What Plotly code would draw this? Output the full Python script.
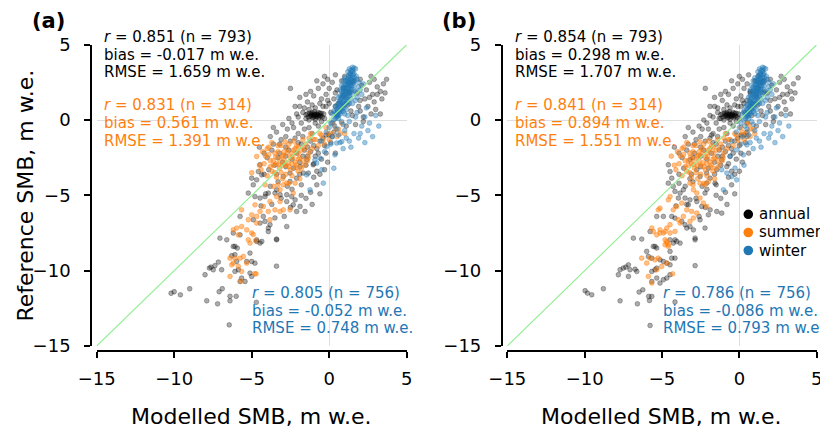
import plotly.graph_objects as go

# ---------------- data ----------------
tick_vals = [-15, -10, -5, 0, 5]
tick_labels = ["\u221215", "\u221210", "\u22125", "0", "5"]
series_names = ["annual", "summer", "winter"]

annual_a = [
    (-1.5,0.35),(-1.35,0.2),(-1.25,0.45),(-1.15,0.3),(-1.05,0.15),(-0.95,0.4),(-0.85,0.25),(-0.75,0.35),
    (-0.65,0.15),(-0.55,0.3),(-0.45,0.2),(-1.1,0.5),(-0.9,0.05),(-0.7,0.5),(-1.3,0.0),(-1.0,0.3),(-0.8,0.4),
    (-0.6,0.45),(-1.2,0.25),(-0.35,0.4),
    (-1.0,0.2),(-0.9,0.35),(-0.8,0.2),(-1.1,0.4),(-0.7,0.3),(-1.2,0.35),(-0.6,0.25),(-1.4,0.4),(-0.5,0.45),
    (-0.95,0.55),
    (-2.5,2.1),(-1.9,1.5),(-1.4,1.2),(-1.0,1.6),(-0.7,2.1),(-0.4,2.4),(-0.1,2.7),(0.2,2.5),(0.5,2.0),(-0.2,1.7),
    (0.3,1.4),(-0.6,1.1),(-1.6,0.8),(-2.1,0.4),(-2.6,0.1),(-3.0,-0.3),(-2.3,-0.5),(-1.8,-0.2),(-1.3,-0.5),
    (-0.2,0.9),(0.1,0.5),(-3.4,-0.8),(-2.8,-1.1),(-1.9,0.9),(-0.9,0.8),(0.6,1.1),(-1.2,1.9),(0.0,2.1),
    (-2.2,0.9),(-1.7,0.5),(-1.3,0.7),(-0.4,0.9),(-0.1,1.3),(0.4,0.9),(0.2,-0.2),(-0.7,-0.4),(-1.1,-0.9),
    (-1.7,-1.1),(-2.5,-1.4),(-3.1,-1.3),(-2.7,-0.6),(-3.8,-1.1),(-2.0,-0.9),(-1.5,0.1),(-0.5,-0.1),(0.5,0.3),
    (0.9,1.6),(0.8,2.6),(-0.3,2.9),(0.4,3.0),(1.0,2.9),
    (-2.0,0.2),(-2.4,-0.2),(-1.6,-0.6),(-0.9,-0.2),(-0.3,0.1),(-1.1,1.0),(-0.5,1.4),(-1.5,1.7),(0.0,1.1),
    (0.4,1.8),(-0.8,2.6),(0.9,2.1),(1.3,1.8),
    (1.6,2.6),(2.1,2.3),(2.6,2.5),(3.1,2.2),(3.5,2.4),(3.3,1.9),(2.8,1.7),(2.3,1.4),(1.8,1.8),(2.9,1.2),(3.4,1.4),
    (2.5,0.9),(2.0,0.6),(1.5,0.3),(2.7,0.4),(3.0,0.7),(2.2,-0.1),(1.7,-0.3),(1.2,1.0),(2.4,2.0),(3.7,2.7),
    (2.2,0.2),(2.9,2.7),(3.6,1.8),(1.4,0.6),(1.1,-0.4),(3.3,0.4),(2.0,1.3),(2.6,1.5),(3.1,1.7),(2.0,2.7),
    (2.7,2.9),(1.9,0.9),
    (-4.5,-1.8),(-4.0,-2.5),(-3.6,-1.6),(-3.2,-2.2),(-2.8,-1.8),(-2.4,-2.6),(-2.0,-1.5),(-1.6,-2.0),(-1.2,-1.4),
    (-0.8,-1.9),(-0.4,-1.2),(0.1,-1.5),(0.4,-2.2),(-0.5,-2.6),(-1.0,-2.9),(-1.45,-2.64),(-1.03,-2.97),
    (-1.35,-3.52),(-1.67,-3.52),(-1.88,-3.09),(-2.1,-3.86),(-2.53,-3.52),(-2.96,-3.75),(-2.53,-4.08),
    (-3.5,-3.0),(-4.46,-2.97),(-4.57,-3.42),(-4.35,-3.64),(-4.68,-3.97),(-5.0,-3.86),(-4.9,-4.3),(-0.3,-3.3),
    (0.3,-0.8),(-3.9,-3.3),(-3.0,-2.8),
    (-2.1,-2.2),(-1.4,-2.4),(-0.9,-2.4),(-0.2,-2.2),(-0.6,-3.6),(-1.0,-3.8),(-1.8,-4.3),(-2.4,-4.6),
    (-3.3,-4.1),(-3.8,-4.4),(-4.2,-3.6),(-0.3,-1.7),(0.0,-1.0),(-1.9,-2.8),(-2.8,-2.4),(-3.4,-3.6),
    (-3.6,-0.5),(-3.2,-1.6),(-2.6,-2.0),(-2.2,-1.2),(-1.8,-1.6),(-1.4,-1.8),(-1.0,-1.7),(-0.6,-1.4),
    (-0.2,-1.0),(0.2,-1.1),(-0.7,-2.2),(-1.2,-2.1),(-1.7,-2.4),(-2.3,-3.2),(-2.8,-3.1),(-3.3,-2.5),
    (-3.7,-2.0),(-4.2,-2.2),(-1.5,-3.0),(-0.8,-3.4),(-0.1,-2.8),(-1.9,-3.6),(-2.7,-4.4),
    (-5.22,-4.85),(-4.79,-5.08),(-4.46,-5.18),(-4.14,-5.08),(-3.93,-4.85),(-3.5,-4.85),(-3.39,-4.63),
    (-3.17,-4.96),(-2.74,-4.96),(-2.42,-5.08),(-2.2,-5.3),(-2.74,-5.41),(-2.32,-5.63),(-1.88,-5.74),
    (-2.1,-6.07),(-1.56,-6.07),(-1.2,-4.8),(-0.8,-4.3),(-1.5,-5.2),(-2.9,-6.4),(-3.5,-6.5),(-4.1,-4.9),
    (-3.1,-5.2),(-2.5,-5.8),(-1.8,-5.0),(-1.1,-5.6),(-0.6,-4.9),(-3.7,-5.6),(-4.4,-5.7),
    (-2.74,-7.07),(-3.39,-7.95),(-3.82,-6.95),(-3.93,-7.17),(-4.14,-6.73),(-4.46,-6.84),(-4.9,-6.62),
    (-5.75,-6.4),(-7.05,-7.84),(-6.61,-7.95),(-6.08,-8.39),(-4.68,-7.95),(-4.35,-8.06),(-4.25,-6.4),
    (-6.19,-8.39),(-5.93,-8.5),(-6.08,-8.94),(-6.29,-9.01),(-5.11,-8.83),(-5.0,-9.39),(-5.32,-9.39),
    (-4.79,-9.5),(-5.97,-9.39),(-5.86,-9.94),(-6.08,-10.05),(-5.65,-10.49),(-5.43,-10.72),(-5.75,-10.72),
    (-5.0,-10.38),(-5.11,-10.16),(-4.46,-8.17),(-4.68,-8.06),(-5.75,-7.62),(-6.19,-7.5),(-3.93,-7.4),
    (-7.37,-9.67),(-7.63,-9.76),(-7.48,-9.94),(-7.15,-9.43),(-6.94,-9.94),(-8.01,-10.27),(-7.73,-9.83),
    (-3.4,-9.7),(-3.4,-7.9),
    (-10.2,-11.5),(-10.0,-11.4),(-9.6,-11.6),(-9.0,-11.2),(-7.9,-12.0),(-7.2,-12.2),(-6.4,-12.0),
    (-6.4,-11.7),(-6.0,-11.7),(-6.45,-13.6),(-7.1,-11.4),(-6.9,-11.2),(-4.7,-12.1),
]

summer_a = [
    (0.3,-0.3),(0.6,-0.6),(0.1,-0.9),(-0.2,-0.5),(0.5,-1.1),(-0.5,-1.0),(-0.9,-1.3),(-0.3,-1.6),(0.8,-0.2),
    (0.0,-1.3),(-1.2,-0.9),(-0.7,-1.7),(1.0,-0.9),(-1.0,-1.3),(-0.6,-0.9),(-0.1,-0.9),(0.4,-0.6),(0.7,-0.9),
    (-1.3,-1.2),(-0.4,-1.3),
    (-1.5,-1.6),(-1.8,-2.0),(-2.1,-1.7),(-2.4,-2.2),(-2.7,-1.9),(-3.0,-2.4),(-3.3,-2.1),(-3.6,-2.7),(-3.9,-2.3),
    (-4.2,-2.9),(-2.2,-2.8),(-2.6,-3.1),(-2.9,-2.7),(-3.2,-3.2),(-3.5,-3.5),(-3.8,-3.1),(-1.9,-2.5),(-1.6,-3.0),
    (-2.0,-3.4),(-2.4,-3.7),(-2.8,-3.6),(-3.1,-1.7),(-3.4,-2.9),(-2.5,-2.5),(-2.0,-2.2),(-1.3,-2.2),(-4.0,-1.9),
    (-4.68,-2.42),(-4.4,-3.3),(-3.0,-3.9),(-1.1,-1.9),(-2.3,-1.4),(-3.7,-1.5),
    (-1.7,-1.3),(-2.0,-2.6),(-2.3,-2.0),(-2.6,-1.6),(-2.9,-2.1),(-3.2,-2.6),(-3.5,-2.2),(-3.8,-2.7),(-4.1,-2.4),
    (-2.1,-3.0),(-2.5,-3.3),(-2.8,-3.0),(-3.1,-3.5),(-3.4,-3.8),(-3.7,-3.4),(-4.0,-3.7),(-1.8,-3.2),(-1.4,-2.7),
    (-2.7,-2.2),(-3.3,-1.7),(-3.9,-1.8),(-1.6,-1.9),(-2.2,-1.9),(-2.4,-2.9),(-3.0,-3.0),(-3.6,-3.0),(-4.5,-3.0),
    (-4.3,-2.1),(-2.6,-4.2),(-3.3,-4.3),(-1.9,-3.9),
    (-2.0,-1.8),(-2.35,-2.45),(-2.65,-2.85),(-2.95,-2.35),(-3.25,-2.95),(-1.7,-2.7),(-2.15,-3.15),
    (-3.45,-2.45),(-2.85,-1.45),(-1.35,-2.5),
    (-4.14,-4.3),(-3.6,-4.41),(-3.39,-5.08),(-3.82,-5.41),(-3.17,-5.41),(-2.96,-5.96),(-3.5,-5.96),
    (-3.93,-6.07),(-4.25,-5.74),(-4.46,-6.07),(-4.79,-5.63),(-5.0,-6.29),(-4.68,-6.4),(-3.82,-6.62),
    (-5.22,-6.62),(-5.65,-5.96),(-6.19,-7.29),(-5.97,-7.17),(-5.86,-7.62),(-5.65,-7.07),(-5.32,-7.29),
    (-5.0,-7.5),(-4.68,-6.84),(-5.22,-7.95),(-5.11,-8.17),(-3.17,-6.07),(-2.53,-5.96),(-2.2,-4.19),
    (-2.32,-4.85),(-2.96,-4.3),(-2.74,-4.19),(-3.17,-4.63),(-5.0,-3.5),(-4.9,-7.6),(-4.75,-8.0),
    (-6.4,-9.17),(-6.19,-9.5),(-6.08,-9.17),(-5.75,-9.17),(-5.54,-9.06),(-5.32,-9.5),(-6.4,-10.38),
    (-6.29,-9.61),(-5.86,-9.72),(-4.72,-10.21),(-5.65,-10.05),(-5.7,-10.7),(-4.8,-10.2),
]

winter_a = [
    (0.3,0.0),(0.5,0.2),(0.4,0.5),(0.7,0.4),(0.6,0.8),(0.8,0.7),(0.5,1.0),(0.9,1.0),(0.7,1.2),(1.0,1.3),
    (0.8,1.5),(1.1,1.6),(0.9,1.8),(1.2,1.9),(1.0,2.1),(1.3,2.2),(1.1,2.4),(1.4,2.5),(1.2,2.7),(1.5,2.8),
    (1.3,3.0),(1.6,3.1),(1.4,3.3),(1.7,3.4),(1.5,3.5),(1.2,3.2),(0.9,2.6),(1.6,2.3),(1.8,2.7),(0.6,1.5),
    (1.4,1.4),(1.7,1.9),(0.4,0.9),(1.1,0.7),(0.7,2.0),(1.9,2.2),(1.3,1.1),(0.6,0.1),(1.0,0.4),(0.2,0.4),
    (1.5,1.7),(1.0,2.8),(1.3,2.5),(0.8,2.3),(1.2,1.5),(0.9,1.3),(1.1,1.1),(0.75,0.6),(1.45,2.0),(1.6,2.6),
    (1.25,2.9),(1.05,1.9),(0.95,1.6),(0.55,0.6),(2.0,2.0),(2.2,2.4),(1.8,1.5),(0.1,-0.2),(0.35,-0.4),
    (0.85,0.9),(1.15,2.3),(1.35,2.7),(0.65,1.1),(1.55,3.0),
    (0.45,0.3),(0.65,0.55),(0.85,1.15),(1.05,1.45),(1.25,1.75),(1.35,2.05),(1.15,2.55),(1.45,2.65),(1.5,3.2),
    (1.3,3.4),(1.0,1.7),(0.8,1.9),(1.2,2.1),(1.4,2.3),(0.9,2.2),(0.7,0.9),(0.5,0.7),(1.1,2.0),(1.3,1.6),
    (1.6,2.0),(1.2,1.2),(0.95,0.8),(0.4,0.1),(0.6,0.3),(1.0,1.0),(1.35,3.1),(1.55,2.45),(1.75,2.9),(0.75,1.4),
    (1.05,2.6),(0.3,0.6),(1.9,2.5),(1.7,1.3),(1.5,1.1),(2.1,1.7),
    (0.55,0.35),(0.75,0.75),(0.95,1.05),(1.15,1.35),(1.3,1.9),(1.45,2.3),(1.35,2.85),(1.5,3.3),(1.6,3.45),
    (1.25,2.45),(1.0,2.3),(0.85,1.7),(0.65,1.25),(1.1,1.8),(1.4,1.85),(1.2,2.6),(0.9,0.55),(0.5,0.45),
    (1.05,2.15),(1.3,2.35),(1.5,2.55),(1.65,2.8),(1.4,3.0),(0.7,1.6),(0.95,1.95),
    (0.5,-0.6),(0.9,-0.3),(1.3,-0.1),(1.7,0.2),(2.1,-0.4),(2.5,-0.7),(1.6,-0.9),(1.1,-1.2),(0.7,-1.5),
    (0.2,-1.1),(-0.2,-0.8),(2.8,-1.1),(2.3,-1.5),(1.4,-1.8),(0.37,-2.31),(0.48,-1.53),(0.81,-1.43),
    (-0.16,-1.76),(-0.59,-2.53),(-0.92,-2.64),(-0.81,-2.86),(-0.48,-3.3),(-0.38,-4.19),(-1.24,-4.63),
    (-1.45,-3.64),(0.3,-3.2),(2.6,-0.2),(3.0,0.3),(1.9,-1.2),(-0.3,-2.1),(2.4,0.8),
    (1.2,0.3),(0.8,-0.1),(1.8,0.5),(2.3,0.2),(0.0,-0.5),(0.6,-1.0),(1.0,-0.7),(2.0,-0.9),(0.9,-1.9),
    (0.1,-1.6),(-0.5,-1.4),(3.2,-0.4),(1.3,-1.4),
]

annual_b = [
    (-1.2,0.35),(-1.05,0.2),(-0.95,0.45),(-0.85,0.3),(-0.75,0.15),(-0.65,0.4),(-0.55,0.25),(-0.45,0.35),
    (-0.35,0.15),(-0.25,0.3),(-0.15,0.2),(-0.8,0.5),(-0.6,0.05),(-0.4,0.5),(-1.0,0.0),(-0.7,0.3),(-0.5,0.4),
    (-0.3,0.45),(-0.9,0.25),(-0.05,0.4),(-1.3,0.1),
    (-0.7,0.2),(-0.6,0.35),(-0.5,0.2),(-0.8,0.4),(-0.4,0.3),(-0.9,0.35),(-0.3,0.25),(-1.1,0.4),(-0.2,0.45),
    (-0.65,0.55),
    (-2.2,2.1),(-1.6,1.5),(-1.1,1.3),(-0.7,1.7),(-0.4,2.1),(-0.1,2.4),(0.2,2.7),(0.5,2.4),(0.7,1.9),(0.1,1.6),
    (0.5,1.3),(-0.3,1.0),(-1.4,0.8),(-1.9,0.3),(-2.3,0.0),(-2.6,-0.4),(-2.0,-0.6),(-1.5,-0.2),(-1.0,-0.5),
    (0.1,0.9),(0.3,0.5),(-3.0,-0.8),(-2.5,-1.1),(-1.6,0.9),(-0.6,0.8),(0.8,1.1),(-0.9,1.9),(0.3,2.1),(-1.8,-1.0),
    (-1.9,0.9),(-1.4,0.5),(-1.0,0.7),(-0.1,0.9),(0.2,1.3),(0.7,0.9),(0.5,-0.2),(-0.4,-0.4),(-0.8,-0.9),
    (-1.4,-1.1),(-2.2,-1.4),(-2.8,-1.3),(-2.4,-0.6),(-3.5,-1.1),(-1.7,-0.9),(-1.2,0.1),(-0.2,-0.1),(0.8,0.3),
    (1.1,1.6),(1.0,2.6),(0.0,2.9),(0.6,3.0),(1.2,2.9),
    (-1.7,0.2),(-2.1,-0.2),(-1.3,-0.6),(-0.6,-0.2),(0.0,0.1),(-0.8,1.0),(-0.2,1.4),(-1.2,1.7),(0.3,1.1),
    (0.7,1.8),(-0.5,2.6),(1.2,2.1),(1.6,1.8),
    (1.6,2.6),(2.1,2.3),(2.6,2.5),(3.1,2.2),(3.5,2.4),(3.3,1.9),(2.8,1.7),(2.3,1.4),(1.8,1.8),(2.9,1.2),(3.4,1.4),
    (2.5,0.9),(2.0,0.6),(1.5,0.3),(2.7,0.4),(3.0,0.7),(2.2,-0.1),(1.7,-0.3),(1.2,1.0),(2.4,2.0),(3.8,2.8),
    (2.2,0.2),(2.9,2.7),(3.6,1.8),(1.4,0.6),(1.1,-0.4),(3.3,0.4),(2.0,1.3),(2.6,1.5),(3.1,1.7),(2.0,2.7),
    (2.7,2.9),(1.9,0.9),
    (-4.2,-1.8),(-3.7,-2.5),(-3.3,-1.6),(-2.9,-2.2),(-2.5,-1.8),(-2.1,-2.6),(-1.7,-1.5),(-1.3,-2.0),(-0.9,-1.4),
    (-0.5,-1.9),(-0.1,-1.2),(0.4,-1.5),(0.6,-2.2),(-0.2,-2.6),(-0.7,-2.9),(-4.59,-2.97),(-4.48,-3.42),
    (-4.37,-3.86),(-4.59,-4.19),(-3.19,-2.64),(-2.75,-3.3),(-2.54,-3.75),(-2.11,-3.52),(-1.89,-3.86),
    (-1.46,-3.3),(-1.14,-2.64),(-0.81,-3.09),(-1.57,-4.19),(-2.11,-4.19),(-2.22,-4.85),(-3.6,-3.2),(0.0,-3.4),
    (0.5,-0.8),(-3.2,-3.9),
    (-1.8,-2.2),(-1.1,-2.4),(-0.6,-2.4),(0.1,-2.2),(-0.3,-3.6),(-0.7,-3.8),(-1.5,-4.3),(-2.1,-4.6),
    (-3.0,-4.1),(-3.5,-4.4),(-3.9,-3.6),(0.0,-1.7),(0.3,-1.0),(-1.6,-2.8),(-2.5,-2.4),(-3.1,-3.6),
    (-3.3,-0.5),(-2.9,-1.6),(-2.3,-2.0),(-1.9,-1.2),(-1.5,-1.6),(-1.1,-1.8),(-0.7,-1.7),(-0.3,-1.4),
    (0.1,-1.0),(0.5,-1.1),(-0.4,-2.2),(-0.9,-2.1),(-1.4,-2.4),(-2.0,-3.2),(-2.5,-3.1),(-3.0,-2.5),
    (-3.4,-2.0),(-3.9,-2.2),(-1.2,-3.0),(-0.5,-3.4),(0.2,-2.8),(-1.6,-3.6),(-2.4,-4.4),
    (-4.27,-4.41),(-4.16,-4.74),(-3.83,-4.85),(-3.62,-4.63),(-3.94,-5.18),(-3.51,-5.18),(-3.19,-5.3),
    (-3.3,-5.63),(-2.75,-5.41),(-2.43,-5.74),(-1.89,-5.96),(-2.0,-6.29),(-1.46,-6.07),(-1.14,-6.18),
    (-2.54,-6.62),(-0.9,-4.8),(-0.5,-4.3),(-1.2,-5.2),(-2.6,-6.4),(-3.9,-4.2),
    (-2.8,-5.2),(-2.2,-5.8),(-1.5,-5.0),(-0.8,-5.6),(-0.3,-4.9),(-3.4,-5.6),(-4.1,-5.7),
    (-3.19,-7.07),(-2.97,-7.29),(-3.4,-7.17),(-3.51,-6.95),(-3.72,-6.73),(-4.16,-6.51),(-4.37,-6.4),
    (-4.91,-6.4),(-5.34,-6.4),(-6.85,-7.84),(-6.31,-7.9),(-5.56,-8.39),(-5.34,-8.5),(-4.48,-7.95),
    (-4.27,-8.17),(-2.86,-7.84),(-2.22,-7.17),(-5.77,-7.4),(-5.45,-8.39),(-5.99,-8.72),(-5.88,-9.06),
    (-5.66,-9.17),(-5.13,-9.28),(-4.91,-9.39),(-4.69,-9.5),(-4.48,-9.61),(-4.37,-9.17),(-4.16,-9.17),
    (-4.48,-8.72),(-4.05,-8.06),(-4.16,-7.95),(-3.83,-8.17),(-5.34,-9.83),(-5.45,-9.94),(-5.66,-10.05),
    (-5.34,-10.49),(-5.13,-10.82),(-4.91,-10.6),(-4.69,-10.49),(-4.48,-10.27),(-5.66,-10.72),
    (-7.82,-10.27),(-7.5,-9.83),(-7.34,-9.76),(-7.17,-9.61),(-7.07,-9.94),(-6.74,-9.9),(-6.63,-10.05),
    (-7.17,-10.38),(-7.71,-9.94),(-2.86,-9.67),(-2.86,-7.95),
    (-9.97,-11.33),(-9.82,-11.49),(-9.54,-11.6),(-8.79,-11.2),(-7.71,-12.0),(-6.59,-12.2),(-6.48,-11.42),
    (-6.24,-11.27),(-5.86,-11.71),(-5.66,-11.71),(-5.81,-11.98),(-5.77,-13.64),(-4.16,-12.08),
]

summer_b = [
    (0.6,-0.3),(0.9,-0.6),(0.4,-0.9),(0.1,-0.5),(0.7,-1.1),(-0.2,-1.0),(-0.6,-1.3),(0.0,-1.6),(0.5,-0.2),
    (0.3,-1.3),(-0.9,-0.9),(-0.4,-1.7),(0.2,-0.8),(-0.7,-1.3),(-0.3,-0.9),(0.2,-1.0),(0.7,-0.6),(1.0,-0.9),
    (-1.0,-1.2),(-0.1,-1.3),
    (-1.2,-1.6),(-1.5,-2.0),(-1.8,-1.7),(-2.1,-2.2),(-2.4,-1.9),(-2.7,-2.4),(-3.0,-2.1),(-3.3,-2.7),(-3.6,-2.3),
    (-3.9,-2.9),(-1.9,-2.8),(-2.3,-3.1),(-2.6,-2.7),(-2.9,-3.2),(-3.2,-3.5),(-3.5,-3.1),(-1.6,-2.5),(-1.3,-3.0),
    (-1.7,-3.4),(-2.1,-3.7),(-2.5,-3.6),(-2.8,-1.7),(-3.1,-2.9),(-2.2,-2.5),(-1.7,-2.2),(-1.0,-2.2),(-3.7,-1.9),
    (-4.4,-2.4),(-4.1,-3.3),(-2.7,-3.9),(-0.8,-1.9),(-2.0,-1.4),(-3.4,-1.5),
    (-1.4,-1.3),(-1.7,-2.6),(-2.0,-2.0),(-2.3,-1.6),(-2.6,-2.1),(-2.9,-2.6),(-3.2,-2.2),(-3.5,-2.7),(-3.8,-2.4),
    (-1.8,-3.0),(-2.2,-3.3),(-2.5,-3.0),(-2.8,-3.5),(-3.1,-3.8),(-3.4,-3.4),(-3.7,-3.7),(-1.5,-3.2),(-1.1,-2.7),
    (-2.4,-2.2),(-3.0,-1.7),(-3.6,-1.8),(-1.3,-1.9),(-1.9,-1.9),(-2.1,-2.9),(-2.7,-3.0),(-3.3,-3.0),(-4.2,-3.0),
    (-4.0,-2.1),(-2.3,-4.2),(-3.0,-4.3),(-1.6,-3.9),
    (-1.7,-1.8),(-2.05,-2.45),(-2.35,-2.85),(-2.65,-2.35),(-2.95,-2.95),(-1.4,-2.7),(-1.85,-3.15),
    (-3.15,-2.45),(-2.55,-1.45),(-1.05,-2.5),
    (-3.19,-4.19),(-2.97,-4.63),(-2.75,-4.85),(-2.54,-5.18),(-2.33,-5.51),(-2.11,-5.74),(-3.08,-6.07),
    (-3.4,-5.96),(-3.72,-5.51),(-4.05,-5.74),(-4.27,-5.96),(-4.48,-5.08),(-4.59,-5.3),(-3.62,-6.4),
    (-3.94,-6.62),(-3.83,-6.84),(-5.13,-5.85),(-5.24,-5.96),(-5.66,-7.17),(-5.56,-7.4),(-5.13,-7.29),
    (-4.91,-7.5),(-4.69,-7.17),(-4.48,-6.95),(-4.16,-7.4),(-4.8,-7.95),(-4.69,-8.17),(-4.59,-8.39),
    (-3.19,-6.73),(-2.97,-6.51),(-2.75,-6.18),(-2.0,-4.08),(-2.22,-4.3),(-2.54,-4.19),(-5.34,-7.62),
    (-5.13,-7.5),(-4.8,-7.4),(-4.48,-7.5),(-4.69,-8.06),(-4.59,-8.28),(-4.8,-8.28),(-6.31,-9.17),
    (-5.99,-9.5),(-5.77,-9.17),(-5.45,-9.28),(-5.24,-9.17),(-4.69,-9.5),(-5.88,-10.38),(-5.66,-10.82),
    (-5.02,-9.72),(-4.31,-10.21),(-5.34,-9.94),
]

winter_b = [
    (0.3,0.0),(0.5,0.2),(0.4,0.5),(0.7,0.4),(0.6,0.8),(0.8,0.7),(0.5,1.0),(0.9,1.0),(0.7,1.2),(1.0,1.3),
    (0.8,1.5),(1.1,1.6),(0.9,1.8),(1.2,1.9),(1.0,2.1),(1.3,2.2),(1.1,2.4),(1.4,2.5),(1.2,2.7),(1.5,2.8),
    (1.3,3.0),(1.6,3.1),(1.4,3.3),(1.7,3.4),(1.5,3.5),(1.2,3.2),(0.9,2.6),(1.6,2.3),(1.8,2.7),(0.6,1.5),
    (1.4,1.4),(1.7,1.9),(0.4,0.9),(1.1,0.7),(0.7,2.0),(1.9,2.2),(1.3,1.1),(0.6,0.1),(1.0,0.4),(0.2,0.4),
    (1.5,1.7),(1.0,2.8),(1.3,2.5),(0.8,2.3),(1.2,1.5),(0.9,1.3),(1.1,1.1),(0.75,0.6),(1.45,2.0),(1.6,2.6),
    (1.25,2.9),(1.05,1.9),(0.95,1.6),(0.55,0.6),(2.0,2.0),(2.2,2.4),(1.8,1.5),(0.1,-0.2),(0.35,-0.4),
    (0.85,0.9),(1.15,2.3),(1.35,2.7),(0.65,1.1),(1.55,3.0),
    (0.45,0.3),(0.65,0.55),(0.85,1.15),(1.05,1.45),(1.25,1.75),(1.35,2.05),(1.15,2.55),(1.45,2.65),(1.5,3.2),
    (1.3,3.4),(1.0,1.7),(0.8,1.9),(1.2,2.1),(1.4,2.3),(0.9,2.2),(0.7,0.9),(0.5,0.7),(1.1,2.0),(1.3,1.6),
    (1.6,2.0),(1.2,1.2),(0.95,0.8),(0.4,0.1),(0.6,0.3),(1.0,1.0),(1.35,3.1),(1.55,2.45),(1.75,2.9),(0.75,1.4),
    (1.05,2.6),(0.3,0.6),(1.9,2.5),(1.7,1.3),(1.5,1.1),(2.1,1.7),
    (0.55,0.35),(0.75,0.75),(0.95,1.05),(1.15,1.35),(1.3,1.9),(1.45,2.3),(1.35,2.85),(1.5,3.3),(1.6,3.45),
    (1.25,2.45),(1.0,2.3),(0.85,1.7),(0.65,1.25),(1.1,1.8),(1.4,1.85),(1.2,2.6),(0.9,0.55),(0.5,0.45),
    (1.05,2.15),(1.3,2.35),(1.5,2.55),(1.65,2.8),(1.4,3.0),(0.7,1.6),(0.95,1.95),
    (0.5,-0.6),(0.9,-0.3),(1.3,-0.1),(1.7,0.2),(2.1,-0.4),(2.5,-0.7),(1.6,-0.9),(1.1,-1.2),(0.7,-1.5),
    (0.2,-1.1),(-0.2,-0.8),(2.8,-1.1),(2.3,-1.5),(1.4,-1.8),(-1.03,-4.63),(-0.81,-3.52),(-0.49,-3.75),
    (-0.17,-3.97),(-0.28,-3.19),(0.26,-2.31),(0.48,-1.65),(-0.17,-1.98),(-0.6,-2.42),(-1.14,-3.3),
    (0.3,-3.0),(2.6,-0.2),(3.0,0.3),(1.9,-1.2),(2.4,0.8),
    (1.2,0.3),(0.8,-0.1),(1.8,0.5),(2.3,0.2),(0.0,-0.5),(0.6,-1.0),(1.0,-0.7),(2.0,-0.9),(0.9,-1.9),
    (0.1,-1.6),(-0.5,-1.4),(3.2,-0.4),(1.3,-1.4),
]

stats_a = {
    "annual": ["<i>r</i> = 0.851 (n = 793)", "bias = -0.017 m w.e.", "RMSE = 1.659 m w.e."],
    "summer": ["<i>r</i> = 0.831 (n = 314)", "bias = 0.561 m w.e.", "RMSE = 1.391 m w.e."],
    "winter": ["<i>r</i> = 0.805 (n = 756)", "bias = -0.052 m w.e.", "RMSE = 0.748 m w.e."],
}
stats_b = {
    "annual": ["<i>r</i> = 0.854 (n = 793)", "bias = 0.298 m w.e.", "RMSE = 1.707 m w.e."],
    "summer": ["<i>r</i> = 0.841 (n = 314)", "bias = 0.894 m w.e.", "RMSE = 1.551 m w.e."],
    "winter": ["<i>r</i> = 0.786 (n = 756)", "bias = -0.086 m w.e.", "RMSE = 0.793 m w.e."],
}

# ---------------- styling ----------------
OX, OY = 8, 8            # the page body margin shifts the figure by 8 px
W, H = 820, 424
FONT = "DejaVu Sans"
colors = {"annual": "#000000", "summer": "#ff7f0e", "winter": "#1f77b4"}
fill = {"annual": "rgba(0,0,0,0.33)", "summer": "rgba(255,127,14,0.5)", "winter": "rgba(31,119,180,0.42)"}


def px(x):
    return (x - OX) / W


def py(y):
    return 1 - (y - OY) / H


fig = go.Figure()

panels = [
    dict(xa="x", ya="y", data={"annual": annual_a, "summer": summer_a, "winter": winter_a}, stats=stats_a,
         dom=(96.7, 406.7), yline=91.0, label="(a)", label_x=31, txt_x=101.5, blue_x=249.5),
    dict(xa="x2", ya="y2", data={"annual": annual_b, "summer": summer_b, "winter": winter_b}, stats=stats_b,
         dom=(507.3, 816.7), yline=501.7, label="(b)", label_x=441, txt_x=512.5, blue_x=660.5),
]

annotations = []
shapes = []
for i, p in enumerate(panels):
    for name in series_names:
        pts = p["data"][name]
        fig.add_trace(go.Scatter(
            x=[a for a, b in pts], y=[b for a, b in pts], mode="markers", xaxis=p["xa"], yaxis=p["ya"],
            showlegend=False, hoverinfo="skip",
            marker=dict(size=4.8, color=fill[name], line=dict(width=0.8, color=fill[name])),
        ))
    fig.add_trace(go.Scatter(x=[tick_vals[0], tick_vals[-1]], y=[tick_vals[0], tick_vals[-1]], mode="lines",
                             xaxis=p["xa"], yaxis=p["ya"], showlegend=False, hoverinfo="skip",
                             line=dict(color="#90ee90", width=1.1)))
    sfx = "" if i == 0 else "2"
    common = dict(range=[-15, 5], tickmode="array", tickvals=tick_vals, ticktext=tick_labels,
                  showgrid=False, zeroline=True, zerolinecolor="#dedede", zerolinewidth=1,
                  showline=True, linecolor="black", linewidth=1.6, ticks="outside", ticklen=6,
                  tickwidth=1.6, tickcolor="black", tickfont=dict(family=FONT, size=18, color="black"),
                  anchor="free", fixedrange=True, automargin=False)
    fig.update_layout(**{
        "xaxis" + sfx: dict(common, domain=[px(p["dom"][0]), px(p["dom"][1])], position=py(351),
                            ticklabelstandoff=6),
        "yaxis" + sfx: dict(common, domain=[py(346.0), py(44.7)], position=px(p["yline"]),
                            ticklabelstandoff=10),
    })
    annotations.append(dict(text="<b>" + p["label"] + "</b>", x=px(p["label_x"]), y=1.0, xref="paper",
                            yref="paper", xanchor="left", yanchor="top", borderpad=0, showarrow=False,
                            font=dict(family=FONT, size=21, color="black")))
    annotations.append(dict(text="Modelled SMB, m w.e.", x=px((p["dom"][0] + p["dom"][1]) / 2 - 0.2),
                            y=py(416), xref="paper", yref="paper", xanchor="center", yanchor="middle",
                            showarrow=False, font=dict(family=FONT, size=22, color="black")))
    for name, x0, ys in [("annual", p["txt_x"], [37, 55, 72]), ("summer", p["txt_x"], [105, 123, 141]),
                         ("winter", p["blue_x"], [293, 311, 328])]:
        for line, yy in zip(p["stats"][name], ys):
            annotations.append(dict(text=line, x=px(x0), y=py(yy), xref="paper", yref="paper",
                                    xanchor="left", yanchor="middle", showarrow=False,
                                    font=dict(family=FONT, size=15, color=colors[name])))

annotations.append(dict(text="Reference SMB, m w.e.", x=px(25), y=py(195.5), xref="paper", yref="paper",
                        xanchor="center", yanchor="middle", textangle=-90, showarrow=False,
                        font=dict(family=FONT, size=22, color="black")))

for name, yy in zip(series_names, [214.3, 232.5, 250.5]):
    r = 4.8
    shapes.append(dict(type="circle", xref="paper", yref="paper", x0=px(748.3 - r), x1=px(748.3 + r),
                       y0=py(yy + r), y1=py(yy - r), fillcolor=colors[name], line=dict(width=0)))
    annotations.append(dict(text=name, x=px(757), y=py(yy), xref="paper", yref="paper", xanchor="left",
                            yanchor="middle", showarrow=False, font=dict(family=FONT, size=15, color="black")))

fig.update_layout(width=W, height=H, margin=dict(l=0, r=0, t=0, b=0, pad=0, autoexpand=False), autosize=False,
                  showlegend=False, paper_bgcolor="white", plot_bgcolor="white", annotations=annotations,
                  shapes=shapes, font=dict(family=FONT))

fig.write_html("out.html")
